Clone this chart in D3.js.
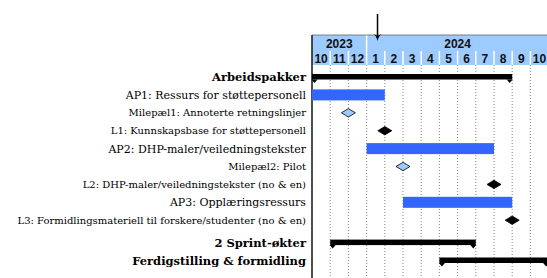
<!DOCTYPE html>
<html>
<head>
<meta charset="utf-8">
<script src="https://cdn.jsdelivr.net/npm/d3@7"></script>
<style>
  body { margin: 0; background: #fff; }
  svg { display: block; }
</style>
</head>
<body>
<div id="chart"></div>
<script>
// ---------- data ----------
const monthLabels = ["10", "11", "12", "1", "2", "3", "4", "5", "6", "7", "8", "9", "10"];
const yearLabels = ["2023", "2024"];
const yearStarts = [0, 3];   // month index where each year begins
const yearEnds = [3, 13];

const rowLabels = [
  "Arbeidspakker",
  "AP1: Ressurs for støttepersonell",
  "Milepæl1: Annoterte retningslinjer",
  "L1: Kunnskapsbase for støttepersonell",
  "AP2: DHP-maler/veiledningstekster",
  "Milepæl2: Pilot",
  "L2: DHP-maler/veiledningstekster (no & en)",
  "AP3: Opplæringsressurs",
  "L3: Formidlingsmateriell til forskere/studenter (no & en)",
  "2 Sprint-økter",
  "Ferdigstilling & formidling"
];
const rowKinds = ["group", "bar", "milestone", "deliverable", "bar", "milestone",
                  "deliverable", "bar", "deliverable", "group", "group"];
// month index (0 = Oct 2023), start / end of each element
const rowStarts = [0, 0, 2, 4, 3, 5, 10, 5, 11, 1, 7];
const rowEnds   = [11, 4, 2, 4, 10, 5, 10, 11, 11, 9, 13];

const todayMark = 3.6; // arrow, mid January 2024

// ---------- layout ----------
const W = 547, H = 278;
const chartLeft = 312;
const monthW = 18.2;
const headerTop = 35, headerMid = 51, headerBottom = 65;
const LIGHT = "#9dcbfd", BLUE = "#3366ff";
const SERIF = '"DejaVu Serif", "Liberation Serif", serif';
const labelSize = { group: "11.5px", bar: "11px", milestone: "10px", deliverable: "10px" };

const x = d3.scaleLinear().domain([0, monthLabels.length]).range([chartLeft, chartLeft + monthLabels.length * monthW]);

// extra gap before the trailing group rows
let seenLaterGroup = false;
const rowPos = rowKinds.map((k, i) => {
  if (k === "group" && i > 0) seenLaterGroup = true;
  return i + (seenLaterGroup ? 0.25 : 0);
});
const y = d3.scaleLinear().domain([0, d3.max(rowPos)]).range([77, 260.5]);

const svg = d3.select("#chart").append("svg")
  .attr("width", W).attr("height", H)
  .attr("viewBox", `0 0 ${W} ${H}`);

// ---------- header ----------
const hdr = svg.append("g");
hdr.append("rect")
  .attr("x", x(0)).attr("y", headerTop)
  .attr("width", x(monthLabels.length) - x(0)).attr("height", headerBottom - headerTop)
  .attr("fill", LIGHT);

hdr.append("line")
  .attr("x1", x(0)).attr("x2", W)
  .attr("y1", headerTop).attr("y2", headerTop)
  .attr("stroke", "#666").attr("stroke-width", 0.8);

// white separators between years and months
hdr.selectAll("line.ysep")
  .data(yearStarts.slice(1))
  .enter().append("line")
  .attr("x1", d => x(d)).attr("x2", d => x(d))
  .attr("y1", headerTop + 0.5).attr("y2", headerMid)
  .attr("stroke", "#fff").attr("stroke-width", 1.5);

hdr.selectAll("line.msep")
  .data(d3.range(1, monthLabels.length))
  .enter().append("line")
  .attr("x1", d => x(d)).attr("x2", d => x(d))
  .attr("y1", headerMid).attr("y2", headerBottom)
  .attr("stroke", "#fff").attr("stroke-width", 1.5);

const hdrFont = sel => sel
  .style("font-family", '"Liberation Sans", Arial, sans-serif')
  .style("font-weight", "bold").style("font-size", "12px")
  .attr("fill", "#111").attr("text-anchor", "middle");

hdr.selectAll("text.year")
  .data(yearLabels)
  .enter().append("text")
  .attr("x", (d, i) => (x(yearStarts[i]) + x(yearEnds[i])) / 2)
  .attr("y", 47.5)
  .call(hdrFont)
  .text(d => d);

hdr.selectAll("text.month")
  .data(monthLabels)
  .enter().append("text")
  .attr("x", (d, i) => x(i + 0.5))
  .attr("y", 63)
  .call(hdrFont)
  .text(d => d);

// ---------- grid ----------
svg.append("g").selectAll("line")
  .data(d3.range(1, monthLabels.length + 1))
  .enter().append("line")
  .attr("x1", d => x(d)).attr("x2", d => x(d))
  .attr("y1", headerBottom).attr("y2", H)
  .attr("stroke", "#666").attr("stroke-width", 0.8)
  .attr("stroke-dasharray", "1,2");

svg.append("line")
  .attr("x1", chartLeft).attr("x2", chartLeft)
  .attr("y1", headerTop).attr("y2", H)
  .attr("stroke", "#222").attr("stroke-width", 1.6);

// ---------- labels ----------
svg.append("g").selectAll("text")
  .data(rowLabels)
  .enter().append("text")
  .attr("x", 306)
  .attr("y", (d, i) => y(rowPos[i]))
  .attr("dy", "0.36em")
  .attr("text-anchor", "end")
  .attr("fill", "#000")
  .style("font-family", SERIF)
  .style("font-size", (d, i) => labelSize[rowKinds[i]])
  .style("font-weight", (d, i) => rowKinds[i] === "group" ? "bold" : "normal")
  .text(d => d);

// ---------- marks ----------
const rows = rowLabels.map((d, i) => ({ kind: rowKinds[i], s: rowStarts[i], e: rowEnds[i], p: rowPos[i] }));
const marks = svg.append("g");

// bars
marks.selectAll("rect.task")
  .data(rows.filter(r => r.kind === "bar"))
  .enter().append("rect")
  .attr("x", d => x(d.s)).attr("width", d => x(d.e) - x(d.s))
  .attr("y", d => y(d.p) - 5.5).attr("height", 11)
  .attr("fill", BLUE);

// groups: thick line with small down-pointing triangles at the ends
const groups = rows.filter(r => r.kind === "group");
marks.selectAll("rect.group")
  .data(groups)
  .enter().append("rect")
  .attr("x", d => x(d.s)).attr("width", d => x(d.e) - x(d.s))
  .attr("y", d => y(d.p) - 3).attr("height", 5.5)
  .attr("fill", "#000");

marks.selectAll("path.gtri")
  .data(groups.flatMap(g => [{ cx: x(g.s) + 2.5, cy: y(g.p) }, { cx: x(g.e) - 2.5, cy: y(g.p) }]))
  .enter().append("path")
  .attr("d", d => `M${d.cx - 3},${d.cy + 2.5} L${d.cx + 3},${d.cy + 2.5} L${d.cx},${d.cy + 6} Z`)
  .attr("fill", "#000");

// milestones (diamonds)
marks.selectAll("path.ms")
  .data(rows.filter(r => r.kind === "milestone" || r.kind === "deliverable"))
  .enter().append("path")
  .attr("d", d => {
    const cx = x(d.s), cy = y(d.p);
    return `M${cx - 7},${cy} L${cx},${cy - 4.2} L${cx + 7},${cy} L${cx},${cy + 4.2} Z`;
  })
  .attr("fill", d => d.kind === "milestone" ? LIGHT : "#000")
  .attr("stroke", "#000").attr("stroke-width", 0.8);

// ---------- today arrow ----------
const ax = x(todayMark);
svg.append("line")
  .attr("x1", ax).attr("x2", ax)
  .attr("y1", 14).attr("y2", 38)
  .attr("stroke", "#000").attr("stroke-width", 1.5);
svg.append("path")
  .attr("d", `M${ax - 4},${34} Q${ax - 1},${36} ${ax},${41} Q${ax + 1},${36} ${ax + 4},${34} L${ax},${36} Z`)
  .attr("fill", "#000");
</script>
</body>
</html>
